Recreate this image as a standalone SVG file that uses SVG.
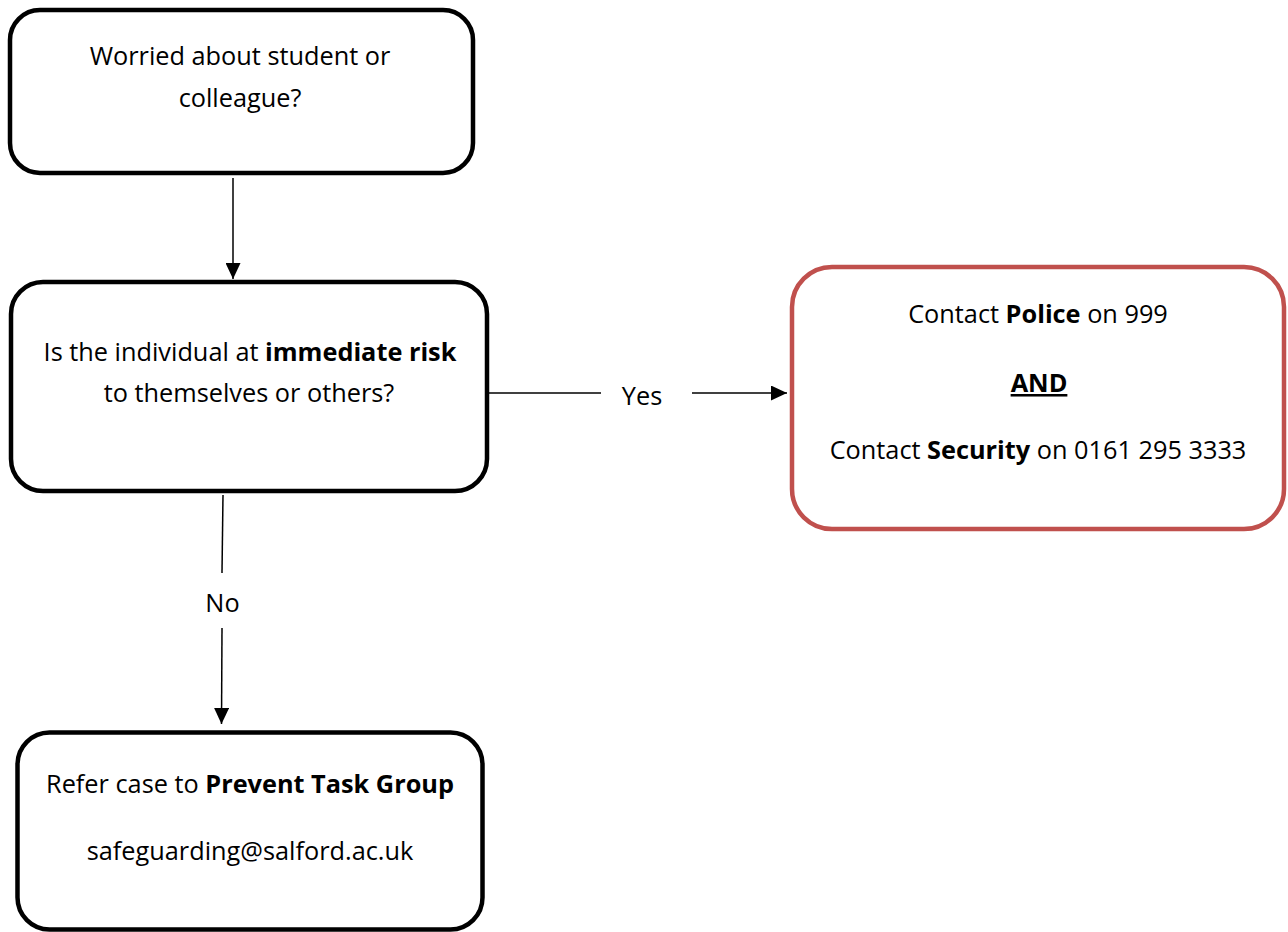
<svg xmlns="http://www.w3.org/2000/svg" width="1288" height="932" viewBox="0 0 1288 932">
<style>
.box{fill:#fff;stroke:#000;stroke-width:4.5}
.red{fill:#fff;stroke:#C0504D;stroke-width:4.5}
.t{font-family:"Open Sans","Noto Sans","Liberation Sans",sans-serif;font-size:25.3px;fill:#000;text-anchor:middle}
.b{font-weight:bold}
.con{fill:none;stroke:#000;stroke-width:1.5}
</style>
<defs>
<marker id="arr" markerUnits="userSpaceOnUse" markerWidth="16" markerHeight="15" refX="16" refY="7.5" orient="auto">
<path d="M0,0 L16,7.5 L0,15 z" fill="#000"/>
</marker>
</defs>
<rect width="1288" height="932" fill="#fff"/>
<g id="connectors">
<path class="con" d="M233,178 L233,279" marker-end="url(#arr)"/>
<path class="con" d="M489,393 L601,393"/>
<path class="con" d="M692,393 L787,393" marker-end="url(#arr)"/>
<text class="t" x="642" y="405">Yes</text>
<path class="con" d="M223,495 L222,573"/>
<path class="con" d="M222,628 L221.5,724" marker-end="url(#arr)"/>
<text class="t" x="222.5" y="612">No</text>
</g>
<g id="node-worried">
<rect class="box" x="10" y="10" width="463" height="163" rx="30"/>
<text class="t" x="240" y="65">Worried about student or</text>
<text class="t" x="240" y="107">colleague?</text>
</g>
<g id="node-risk">
<rect class="box" x="11" y="282" width="476" height="209" rx="32"/>
<text class="t" x="250" y="361">Is the individual at <tspan class="b">immediate risk</tspan></text>
<text class="t" x="249" y="402">to themselves or others?</text>
</g>
<g id="node-contact">
<rect class="red" x="792" y="267" width="492" height="262" rx="40"/>
<text class="t" x="1038" y="323">Contact <tspan class="b">Police</tspan> on 999</text>
<text class="t b" x="1039" y="392" text-decoration="underline">AND</text>
<text class="t" x="1038" y="459">Contact <tspan class="b">Security</tspan> on 0161 295 3333</text>
</g>
<g id="node-refer">
<rect class="box" x="17.5" y="732.5" width="465" height="197" rx="32"/>
<text class="t" x="250" y="793">Refer case to <tspan class="b">Prevent Task Group</tspan></text>
<text class="t" x="250" y="860">safeguarding@salford.ac.uk</text>
</g>
</svg>
